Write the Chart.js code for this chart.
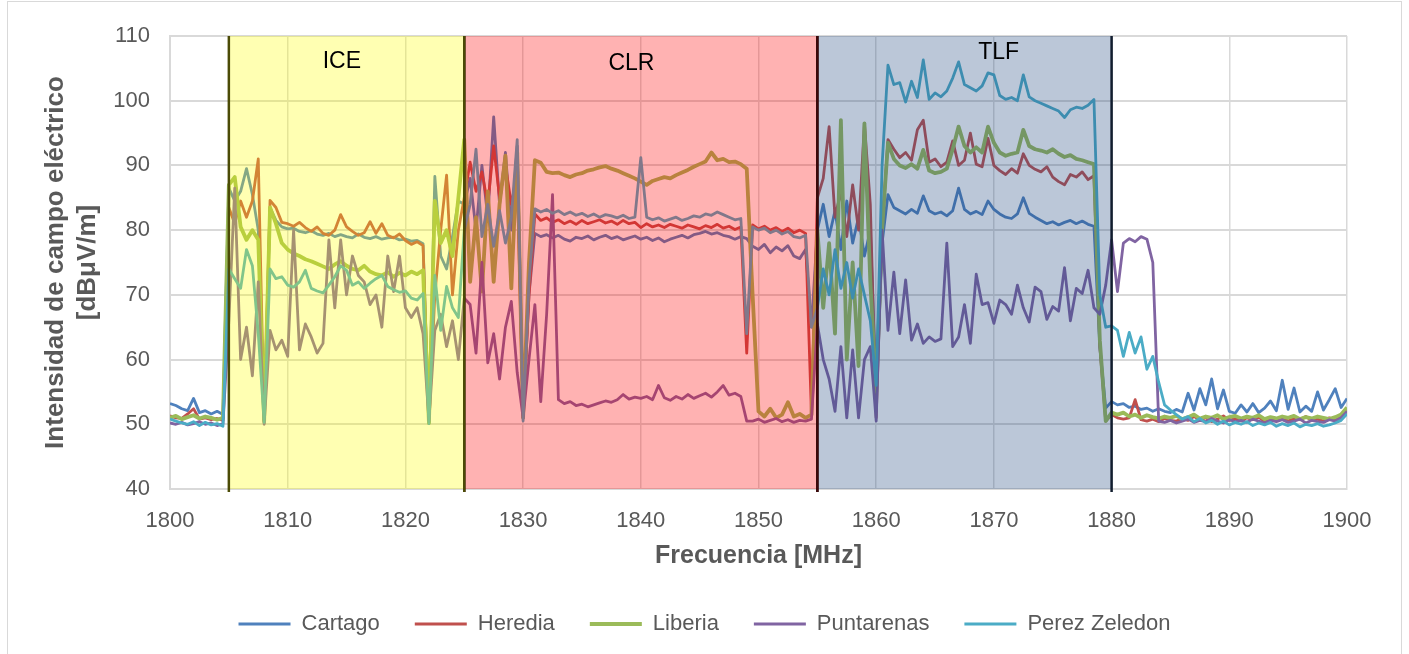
<!DOCTYPE html>
<html>
<head>
<meta charset="utf-8">
<title>Intensidad de campo eléctrico 1800-1900 MHz</title>
<script src="https://cdn.jsdelivr.net/npm/chart.js@4.4.1/dist/chart.umd.min.js"></script>
<style>
  html, body { margin: 0; padding: 0; background: #fff; }
  #frame { position: absolute; left: 7px; top: 1px; width: 1393px; height: 700px; border: 1px solid #d9d9d9; }
  #wrap { position: absolute; left: 0; top: 0; width: 1409px; height: 654px; }
</style>
</head>
<body>
<div id="frame"></div>
<div id="wrap"><canvas id="spectrum" width="1409" height="654"></canvas></div>
<script>
// Sweep: 1800 - 1900 MHz, one sample every 0.5 MHz (201 samples)
const START_FREQ = 1800;
const STEP = 0.5;
const freqs = Array.from({ length: 201 }, (_, i) => START_FREQ + i * STEP);

// Field strength per site, dBuV/m
const cartago = [
  53.2, 52.9, 52.4, 52.1, 54.0, 51.8, 52.1, 51.6, 52.0, 51.5,
  86.5, 84.5, 86.0, 89.5, 85.5, 80.0, 50.5, 83.5, 81.5, 80.5,
  80.2, 80.3, 79.8, 79.6, 79.9, 79.4, 79.2, 79.5, 79.0, 79.3,
  79.0, 78.8, 79.4, 78.9, 78.7, 79.0, 78.6, 78.8, 78.9, 78.5,
  78.6, 78.3, 78.4, 77.9, 50.3, 88.3, 76.0, 74.0, 79.0, 84.5,
  84.0, 88.0, 80.0, 90.0, 82.0, 97.5, 84.0, 92.0, 80.0, 93.0,
  51.0, 70.0, 79.5, 79.0, 79.3, 78.8, 79.2, 78.6, 78.3, 78.9,
  78.7, 79.1, 78.5, 78.9, 79.2, 78.7, 79.0, 78.5, 78.8, 79.1,
  78.6, 78.9, 78.4, 78.8, 78.2, 78.6, 78.9, 79.2, 78.8, 79.3,
  79.5, 79.8, 79.4, 79.6, 79.2, 79.0, 78.6, 79.0, 78.7, 77.5,
  77.0, 77.8, 76.5, 77.4, 76.8, 77.6, 76.0, 75.6, 77.0, 65.0,
  80.0, 84.0, 79.0, 83.0, 77.0, 84.5, 78.0, 82.0, 76.0, 80.0,
  55.0, 78.0, 85.5, 83.5, 83.0, 82.5, 83.2, 82.6, 85.3, 83.0,
  82.5, 82.8, 82.2, 83.0, 86.5, 83.2, 82.5, 82.9, 82.4, 84.5,
  83.2, 82.5, 82.0, 81.8, 82.5, 85.0, 82.6, 82.0, 81.5, 81.0,
  81.3, 80.8, 81.2, 81.5, 81.0, 81.4, 80.9, 80.6, 62.0, 52.5,
  53.5, 53.0, 53.2, 52.6, 52.8, 52.3, 52.5, 52.0, 52.4, 52.0,
  51.8, 52.3, 51.9, 54.8, 52.2, 55.5, 53.0, 57.0, 52.4, 55.3,
  52.0, 51.7, 53.0, 51.9, 53.2, 51.8, 52.5, 53.6, 52.1, 56.8,
  52.3, 55.6, 51.9, 52.8, 52.0, 55.0, 52.2, 53.8, 55.5, 52.6,
  54.0
];

const heredia = [
  51.3, 51.0, 50.9, 51.6, 52.4, 50.8, 51.0, 50.7, 50.9, 50.6,
  83.5, 81.0, 84.5, 82.0, 84.5, 91.0, 50.2, 84.6, 83.5, 81.2,
  81.0, 80.6, 81.2, 80.4, 79.8, 80.5, 79.5, 79.2, 80.0, 82.4,
  80.5, 79.8, 79.2, 79.6, 81.3, 79.5, 81.0, 79.2, 78.8, 79.4,
  78.4, 77.8, 78.2, 77.6, 50.1, 70.0, 80.0, 88.5, 70.0, 80.0,
  85.0, 90.5, 86.0, 89.0, 84.0, 93.0, 85.0, 90.0, 84.0, 88.5,
  51.0, 70.0, 82.5, 81.5, 81.9, 81.2, 81.6, 81.0, 81.4, 80.9,
  81.5, 81.0, 81.3, 81.6, 81.1, 81.4, 80.9, 81.5, 81.0, 81.2,
  80.4, 81.0, 80.5, 80.8, 80.4, 80.9, 80.6, 80.3, 80.8, 80.5,
  80.2, 80.7, 80.4, 80.9, 80.3, 80.6, 80.1, 80.5, 61.0, 80.8,
  80.2, 80.6, 80.0, 80.4, 79.8, 80.3, 79.6, 80.0, 79.5, 51.5,
  85.0, 88.0, 96.0, 82.0, 86.0, 79.0, 87.0, 80.0, 96.5, 84.0,
  51.0, 80.0, 94.0, 92.5, 91.2, 92.0, 90.8, 95.5, 97.0, 90.5,
  91.0, 89.8, 90.5, 93.8, 90.0, 90.8, 95.0, 90.2, 89.8, 94.2,
  90.0, 89.2, 88.6, 89.5, 88.8, 91.8, 90.0, 89.4, 89.0, 89.8,
  88.2, 87.5, 87.0, 88.6, 88.2, 89.0, 87.8, 88.4, 62.0, 50.5,
  51.5, 51.0, 50.8, 51.0, 53.8, 50.7, 50.5, 50.8, 50.4, 50.9,
  50.6, 50.5, 50.9, 50.6, 51.2, 50.7, 51.0, 50.4, 50.8, 51.3,
  50.6, 50.9, 50.5, 51.0, 50.7, 51.1, 50.4, 50.8, 50.6, 51.0,
  50.5, 50.9, 50.7, 51.2, 50.6, 50.8, 50.5, 51.0, 50.7, 51.3,
  52.4
];

const liberia = [
  51.0, 51.3, 50.8, 51.1, 51.4, 50.9, 51.2, 51.0, 50.7, 51.0,
  87.0, 88.2, 80.5, 78.5, 80.0, 78.5, 50.5, 83.5, 81.0, 78.0,
  77.0, 76.4, 76.0, 75.5, 75.2, 74.8, 74.4, 74.0, 74.7, 75.2,
  74.5, 74.0, 73.8, 74.5, 73.6, 73.2, 73.0, 73.5, 72.8, 73.4,
  73.0, 73.6, 73.2, 73.8, 50.2, 84.5, 78.0, 80.0, 76.0, 85.0,
  94.0, 72.0, 82.0, 70.5, 86.0, 72.0, 84.0, 91.5, 71.0, 92.0,
  51.0, 75.0, 90.8, 90.4, 89.0, 88.8, 88.9, 88.5, 88.2, 88.6,
  88.8, 89.2, 89.4, 89.7, 89.9, 89.5, 89.2, 88.8, 88.4, 88.0,
  87.5, 87.0, 87.6, 87.9, 88.2, 88.0, 88.5, 88.9, 89.3, 89.8,
  90.2, 90.6, 92.0, 90.8, 91.0, 90.5, 90.6, 90.2, 89.5, 70.0,
  52.0, 51.2, 52.4, 51.0, 51.5, 53.4, 51.2, 51.6, 51.0, 51.5,
  80.0, 68.0, 78.0, 64.0, 97.0, 60.0, 75.0, 59.0, 96.5, 72.0,
  55.0, 80.0, 93.5, 91.0, 90.0, 89.6, 90.2, 89.5, 92.4, 89.2,
  88.8, 89.0, 89.5, 92.5, 96.0, 93.0, 92.0, 92.8, 92.0, 96.0,
  93.5, 92.0, 91.5, 91.8, 92.0, 95.5, 93.0, 92.5, 92.3, 92.0,
  92.5, 91.8, 91.3, 91.6, 91.0, 90.8, 90.5, 90.2, 63.0, 50.5,
  51.8, 51.5, 51.8, 51.2, 51.5, 51.0, 51.4, 51.1, 50.9, 51.2,
  51.0, 51.3, 50.8, 51.1, 51.5, 50.9, 51.2, 51.0, 51.4, 50.8,
  51.1, 51.3, 50.9, 51.2, 51.0, 51.4, 50.8, 51.1, 50.9, 51.2,
  51.0, 51.3, 50.8, 51.1, 50.9, 51.2, 51.0, 50.8, 51.1, 51.5,
  52.6
];

const puntarenas = [
  50.2, 50.0, 50.3, 49.9, 50.1, 50.4, 50.0, 50.2, 49.8, 50.1,
  66.0, 86.5, 60.0, 65.0, 57.5, 72.0, 50.0, 64.5, 61.5, 63.0,
  60.5, 80.0, 61.5, 65.5, 63.5, 61.0, 62.5, 78.5, 68.0, 78.5,
  70.0, 76.0, 73.0, 72.0, 68.5, 70.0, 65.0, 76.0, 70.5, 76.0,
  68.0, 66.5, 68.0, 64.0, 50.5, 64.5, 67.0, 62.0, 66.0, 60.0,
  69.5, 68.5, 61.0, 75.0, 59.5, 64.0, 57.0, 65.0, 69.0, 58.0,
  51.0, 60.0, 68.5, 53.5, 67.0, 85.5, 53.8, 53.2, 53.5, 52.9,
  53.1, 52.7, 53.0, 53.3, 53.6, 53.4, 53.8, 54.6, 53.9, 54.2,
  54.0, 54.3, 53.8, 56.0, 54.1, 53.7, 54.3, 53.9, 54.6, 54.0,
  54.4, 54.8, 54.2, 55.0, 56.0, 54.5, 54.8, 54.3, 50.5, 50.5,
  50.8, 50.3, 50.6, 50.9, 50.4, 50.7, 50.3, 50.6, 50.5, 50.8,
  65.5, 60.0, 57.0, 52.0, 62.0, 51.0, 61.5, 51.0, 60.0, 62.0,
  50.5, 80.0, 64.5, 73.5, 64.0, 72.3, 63.0, 65.5, 62.5, 63.5,
  62.8, 63.2, 78.0, 62.0, 63.5, 68.5, 62.5, 73.2, 68.5, 68.8,
  65.6, 69.2, 68.5, 67.0, 71.5, 68.0, 65.8, 71.2, 70.5, 66.2,
  68.2, 67.5, 74.2, 66.0, 71.0, 70.2, 73.8, 68.0, 67.0, 71.5,
  78.5, 70.5, 78.0, 78.7, 78.2, 79.0, 78.6, 75.0, 50.5, 50.3,
  50.6, 50.2, 50.5, 50.8, 50.3, 50.6, 50.4, 50.9, 50.5, 50.2,
  50.7, 50.4, 50.6, 50.3, 50.8, 50.5, 50.2, 50.6, 50.4, 50.7,
  50.3, 50.5, 50.8, 50.2, 50.6, 50.4, 50.3, 50.7, 50.5, 51.0,
  52.0
];

const perezZeledon = [
  50.8, 50.5, 50.2, 50.0, 50.4, 49.8, 50.3, 49.9, 50.1, 49.7,
  74.0, 72.5, 71.0, 77.0, 74.5, 64.0, 50.3, 74.0, 72.5, 72.8,
  71.5, 71.2, 72.0, 73.8, 71.0, 70.6, 70.3, 71.5, 72.8, 74.5,
  73.8, 71.5, 72.0, 71.0, 71.8, 72.5, 73.0, 71.3, 70.8, 70.4,
  70.6, 69.5, 69.2, 70.2, 50.1, 73.0, 64.5, 71.3, 68.0, 66.5,
  80.0, 84.0, 92.5, 79.0, 84.0, 77.5, 83.0, 78.0, 82.0, 94.0,
  50.5, 72.0, 83.3, 82.8, 83.2, 82.6, 83.0, 82.4, 82.8, 82.3,
  82.6, 82.1, 82.5, 82.0, 82.4, 82.2, 81.9, 82.3, 81.8, 82.0,
  91.2, 82.0, 81.6, 81.9, 81.4, 81.7, 82.0, 81.5, 81.8, 82.2,
  82.0, 82.5, 82.3, 82.8, 82.4, 82.0, 81.6, 81.8, 64.0, 80.5,
  80.0, 80.3, 79.6, 80.0, 79.4, 79.8, 79.0, 78.8, 79.2, 65.0,
  68.0, 74.0, 70.0, 77.0, 71.0, 75.0, 69.5, 74.0, 70.0, 66.0,
  56.0, 90.0, 105.5, 102.5, 102.8, 99.8, 103.0, 100.5, 106.3, 100.2,
  101.2, 100.6, 101.5, 103.5, 106.0, 102.5, 102.0, 101.5, 102.3, 104.3,
  104.0, 100.8, 100.2, 100.5, 100.0, 104.0, 100.6, 100.0, 99.6, 99.2,
  98.8, 98.4, 97.4, 98.6, 99.0, 98.8, 99.3, 100.2, 70.0, 65.0,
  65.2, 64.5, 60.5, 64.2, 61.0, 63.5, 58.5, 60.5, 56.5, 53.0,
  52.2, 51.5, 50.8, 51.2, 50.4, 50.9, 50.2, 50.6, 50.0, 50.5,
  49.9, 50.3, 50.0, 50.4, 49.8, 50.2, 49.9, 50.3, 49.7, 50.1,
  49.8, 50.2, 49.6, 50.0, 49.8, 50.1, 49.7, 49.9, 50.2, 50.6,
  51.6
];

const siteNames = ['Cartago', 'Heredia', 'Liberia', 'Puntarenas', 'Perez Zeledon'];
const siteValues = [cartago, heredia, liberia, puntarenas, perezZeledon];
const siteColors = ['#4F81BD', '#C0504D', '#9BBB59', '#8064A2', '#4BACC6'];
const siteWidths = [2.8, 2.8, 3.8, 2.8, 2.8];

// Operator allocations (MHz)
const bandNames = ['ICE', 'CLR', 'TLF'];
const bandFrom = [1805, 1825, 1855];
const bandTo = [1825, 1855, 1880];

// Look of each band: translucent fill, edge colour, where the name sits (MHz, dB)
const bandStyle = {
  ICE: { fill: 'rgba(255,255,0,0.30)', edge: '#4b4b06', at: [1814.6, 106.1] },
  CLR: { fill: 'rgba(255,0,0,0.30)', edge: '#3e0808', at: [1839.2, 105.7] },
  TLF: { fill: 'rgba(31,68,125,0.30)', edge: '#111d2e', at: [1870.4, 107.5] }
};

const FONT = "'Liberation Sans', Arial, sans-serif";
const GREY_TEXT = '#595959';
const GRID = '#d9d9d9';

Chart.defaults.font.family = FONT;

const bandPlugin = {
  id: 'operatorBands',
  afterDatasetsDraw(chart) {
    const { ctx, chartArea, scales } = chart;
    const { top, bottom } = chartArea;
    const x = scales.x;
    const y = scales.y;
    ctx.save();
    bandNames.forEach((name, i) => {
      const x0 = x.getPixelForValue(bandFrom[i]);
      const x1 = x.getPixelForValue(bandTo[i]);
      ctx.fillStyle = bandStyle[name].fill;
      ctx.fillRect(x0, top, x1 - x0, bottom - top);
    });
    // edges: drawn right to left so shared edges keep the colour of the band on their left
    ctx.lineWidth = 2.5;
    for (let i = bandNames.length - 1; i >= 0; i--) {
      ctx.strokeStyle = bandStyle[bandNames[i]].edge;
      [bandFrom[i], bandTo[i]].forEach(f => {
        const px = x.getPixelForValue(f);
        ctx.beginPath();
        ctx.moveTo(px, top);
        ctx.lineTo(px, bottom + 3);
        ctx.stroke();
      });
    }
    ctx.fillStyle = '#000';
    ctx.font = '23px ' + FONT;
    ctx.textAlign = 'center';
    ctx.textBaseline = 'middle';
    bandNames.forEach(name => {
      const [f, v] = bandStyle[name].at;
      ctx.fillText(name, x.getPixelForValue(f), y.getPixelForValue(v));
    });
    ctx.restore();
  }
};

new Chart(document.getElementById('spectrum'), {
  type: 'line',
  data: {
    datasets: siteNames.map((name, i) => ({
      label: name,
      data: freqs.map((f, k) => ({ x: f, y: siteValues[i][k] })),
      borderColor: siteColors[i],
      backgroundColor: siteColors[i],
      borderWidth: siteWidths[i],
      pointBorderColor: siteColors[i],
      pointBorderWidth: siteWidths[i],
      pointRadius: 0,
      tension: 0,
      borderJoinStyle: 'round',
      order: siteNames.length - 1 - i
    }))
  },
  options: {
    responsive: false,
    animation: false,
    events: [],
    layout: { padding: { top: 36, bottom: 9, left: 0, right: 0 } },
    scales: {
      x: {
        type: 'linear',
        min: 1800,
        max: 1900,
        ticks: {
          stepSize: 10,
          color: GREY_TEXT,
          font: { size: 22 },
          padding: 19,
          maxRotation: 0,
          callback: v => String(v)
        },
        grid: { color: GRID, lineWidth: 1.5, drawTicks: false },
        border: { color: GRID, width: 2 },
        title: {
          display: true,
          text: 'Frecuencia [MHz]',
          color: GREY_TEXT,
          font: { size: 25, weight: 'bold', lineHeight: 1.25 },
          padding: { top: 0, bottom: 6 }
        },
        afterFit: s => { s.height = 89; s.paddingRight = 62; }
      },
      y: {
        min: 40,
        max: 110,
        ticks: { stepSize: 10, color: GREY_TEXT, font: { size: 22 }, padding: 20 },
        grid: { color: GRID, lineWidth: 2, drawTicks: false },
        border: { color: GRID, width: 2 },
        title: {
          display: true,
          text: ['Intensidad de campo eléctrico', '[dBμV/m]'],
          color: GREY_TEXT,
          font: { size: 26, weight: 'bold', lineHeight: 1.22 },
          padding: { top: 40, bottom: 0 }
        },
        afterFit: s => { s.width = 170; }
      }
    },
    plugins: {
      tooltip: { enabled: false },
      legend: {
        position: 'bottom',
        labels: {
          usePointStyle: true,
          pointStyle: 'line',
          pointStyleWidth: 52,
          color: GREY_TEXT,
          font: { size: 22 },
          padding: 35,
          sort: (a, b) => a.datasetIndex - b.datasetIndex
        }
      }
    }
  },
  plugins: [bandPlugin]
});
</script>
</body>
</html>
